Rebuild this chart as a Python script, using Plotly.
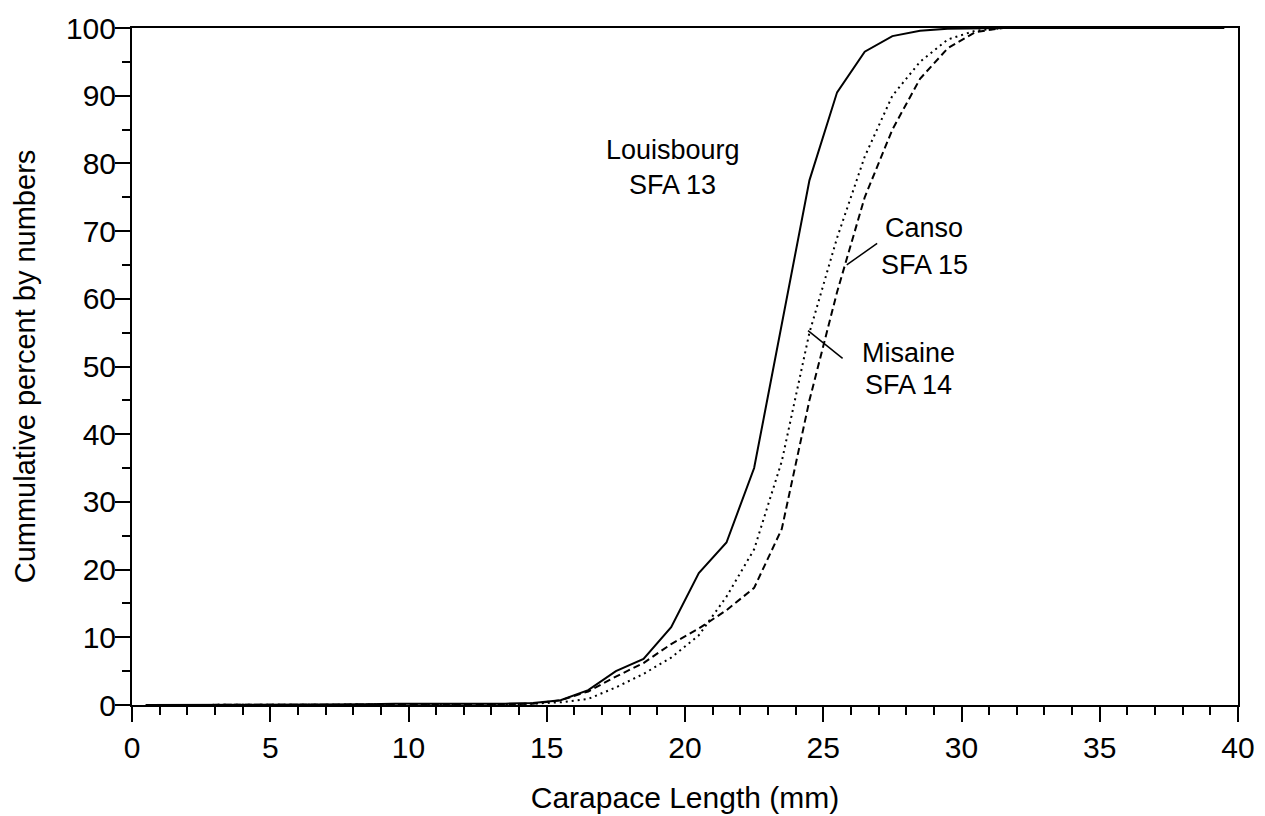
import plotly.graph_objects as go

length_mm = [0.5, 7.5, 8.5, 9.5, 10.5, 11.5, 12.5, 13.5, 14.5, 15.5, 16.5, 17.5, 18.5,
             19.5, 20.5, 21.5, 22.5, 23.5, 24.5, 25.5, 26.5, 27.5, 28.5, 29.5, 30.5, 31.5, 39.5]
louisbourg = [0, 0, 0.1, 0.2, 0.2, 0.1, 0.1, 0.2, 0.3, 0.7, 2.2, 5.0, 6.8,
              11.5, 19.5, 24.0, 35.0, 56.0, 77.5, 90.5, 96.5, 98.8, 99.6, 99.9, 100, 100, 100]
misaine = [0, 0, 0, 0.1, 0.1, 0.1, 0.1, 0.1, 0.2, 0.4, 0.9, 2.6, 4.6,
           7.0, 10.3, 16.0, 23.0, 36.0, 55.0, 69.0, 81.0, 90.0, 95.0, 98.3, 99.6, 100, 100]
canso = [0, 0, 0, 0.1, 0.1, 0.1, 0.1, 0.1, 0.2, 0.7, 2.0, 4.2, 6.2,
         9.0, 11.3, 14.0, 17.3, 26.0, 45.0, 61.0, 75.0, 85.0, 92.5, 97.0, 99.4, 100, 100]

fig = go.Figure()
fig.add_trace(go.Scatter(x=length_mm, y=louisbourg, mode="lines", name="Louisbourg SFA 13",
                         line=dict(color="black", width=2)))
fig.add_trace(go.Scatter(x=length_mm, y=misaine, mode="lines", name="Misaine SFA 14",
                         line=dict(color="black", width=2, dash="2px,4px")))
fig.add_trace(go.Scatter(x=length_mm, y=canso, mode="lines", name="Canso SFA 15",
                         line=dict(color="black", width=2, dash="7px,4px")))

font = "Liberation Sans, Arial, Helvetica, sans-serif"
ann_font = dict(family=font, size=27, color="black")
fig.add_annotation(x=19.55, y=82.0, text="Louisbourg", showarrow=False, font=ann_font)
fig.add_annotation(x=19.55, y=76.8, text="SFA 13", showarrow=False, font=ann_font)
fig.add_annotation(x=28.66, y=70.5, text="Canso", showarrow=False, font=ann_font)
fig.add_annotation(x=28.66, y=65.0, text="SFA 15", showarrow=False, font=ann_font)
fig.add_annotation(x=28.1, y=52.0, text="Misaine", showarrow=False, font=ann_font)
fig.add_annotation(x=28.1, y=47.3, text="SFA 14", showarrow=False, font=ann_font)
# leader lines
fig.add_shape(type="line", x0=25.85, y0=65.0, x1=26.95, y1=68.2, line=dict(color="black", width=1.5))
fig.add_shape(type="line", x0=24.45, y0=55.3, x1=25.7, y1=51.2, line=dict(color="black", width=1.5))

fig.update_layout(
    width=1265, height=816,
    margin=dict(l=132, r=27, t=28, b=111),
    paper_bgcolor="white", plot_bgcolor="white",
    showlegend=False,
    font=dict(family=font, size=29, color="black"),
)
fig.update_xaxes(
    range=[0, 40], tickmode="linear", tick0=0, dtick=5,
    ticks="outside", ticklen=15, tickwidth=2, tickcolor="black",
    minor=dict(ticks="outside", dtick=1, ticklen=8, tickwidth=1.5, tickcolor="black"),
    showline=True, linewidth=2, linecolor="black", mirror=True,
    showgrid=False, zeroline=False, automargin=False,
    tickfont=dict(size=30), ticklabelstandoff=0,
    title=dict(text="Carapace Length (mm)", font=dict(size=30), standoff=24),
)
fig.update_yaxes(
    range=[0, 100], tickmode="linear", tick0=0, dtick=10,
    ticks="outside", ticklen=15, tickwidth=2, tickcolor="black",
    minor=dict(ticks="outside", dtick=5, ticklen=8, tickwidth=1.5, tickcolor="black"),
    showline=True, linewidth=2, linecolor="black", mirror=True,
    showgrid=False, zeroline=False, automargin=False,
    tickfont=dict(size=30), ticklabelstandoff=-7,
    title=dict(text="Cummulative percent by numbers", font=dict(size=29), standoff=22),
)

fig.write_html("out.html")
